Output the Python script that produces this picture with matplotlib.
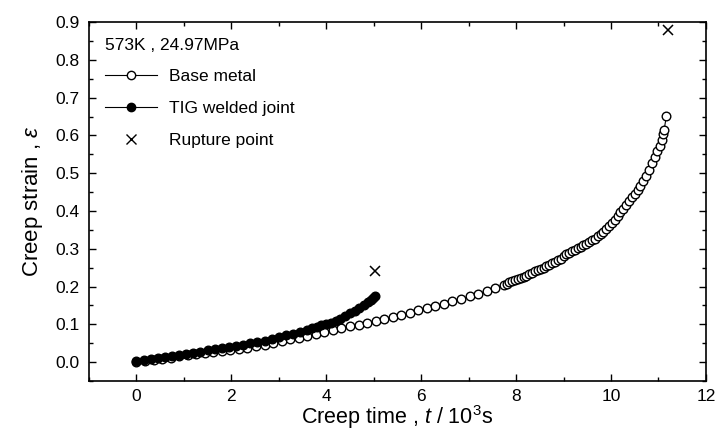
import matplotlib
matplotlib.use("Agg")
import matplotlib.pyplot as plt
from matplotlib.ticker import MultipleLocator, FormatStrFormatter
from matplotlib.lines import Line2D

plt.rcParams['font.family'] = ['Liberation Sans', 'DejaVu Sans']
plt.rcParams['mathtext.fontset'] = 'custom'
plt.rcParams['mathtext.rm'] = 'Liberation Sans'
plt.rcParams['mathtext.it'] = 'Liberation Sans:italic'

# Base metal (time in 10^3 s, strain)
base_t = [0.00, 0.18, 0.36, 0.54, 0.72, 0.90, 1.08, 1.26, 1.44, 1.62, 1.80, 1.98,
          2.16, 2.34, 2.52, 2.70, 2.88, 3.06, 3.24, 3.42, 3.60, 3.78, 3.96, 4.14,
          4.32, 4.50, 4.68, 4.86, 5.04, 5.22, 5.40, 5.58, 5.76, 5.94, 6.12, 6.30,
          6.48, 6.66, 6.84, 7.02, 7.20, 7.38, 7.56, 7.74,
          7.80, 7.86, 7.92, 7.98, 8.04, 8.10, 8.16, 8.22, 8.28, 8.34, 8.40, 8.46,
          8.52, 8.58, 8.64, 8.70, 8.76, 8.82, 8.88, 8.94, 9.00, 9.06, 9.12, 9.18,
          9.24, 9.30, 9.36, 9.42, 9.48, 9.54, 9.60, 9.66, 9.72, 9.78, 9.84, 9.90,
          9.96, 10.02, 10.08, 10.14, 10.20, 10.26, 10.32, 10.38, 10.44, 10.50,
          10.56, 10.62, 10.68, 10.74, 10.80, 10.86, 10.92, 10.98, 11.03, 11.07,
          11.10, 11.12, 11.17]
base_e = [0.000, 0.003, 0.006, 0.009, 0.012, 0.015, 0.018, 0.021, 0.024, 0.027, 0.029, 0.032,
          0.035, 0.038, 0.042, 0.046, 0.051, 0.055, 0.060, 0.065, 0.070, 0.075, 0.080, 0.085,
          0.090, 0.095, 0.099, 0.104, 0.108, 0.113, 0.119, 0.125, 0.131, 0.137, 0.142, 0.148,
          0.155, 0.161, 0.167, 0.174, 0.181, 0.188, 0.196, 0.205,
          0.208, 0.211, 0.214, 0.217, 0.220, 0.223, 0.226, 0.229, 0.233, 0.236, 0.240, 0.243,
          0.247, 0.250, 0.254, 0.258, 0.262, 0.266, 0.270, 0.274, 0.280, 0.285, 0.289, 0.293,
          0.297, 0.301, 0.305, 0.309, 0.313, 0.317, 0.322, 0.327, 0.333, 0.339, 0.345, 0.352,
          0.360, 0.368, 0.377, 0.386, 0.396, 0.406, 0.417, 0.427, 0.436, 0.445,
          0.455, 0.466, 0.479, 0.493, 0.509, 0.526, 0.543, 0.558, 0.573, 0.588,
          0.603, 0.615, 0.652]

# TIG welded joint
tig_t = [0.00, 0.15, 0.30, 0.45, 0.60, 0.75, 0.90, 1.05, 1.20, 1.35, 1.50, 1.65,
         1.80, 1.95, 2.10, 2.25, 2.40, 2.55, 2.70, 2.85, 3.00, 3.15, 3.30, 3.45,
         3.60, 3.70, 3.80, 3.90, 4.00, 4.10, 4.20, 4.30, 4.40, 4.50, 4.60, 4.70,
         4.80, 4.88, 4.94, 4.98, 5.02]
tig_e = [0.003, 0.005, 0.008, 0.011, 0.013, 0.016, 0.019, 0.022, 0.025, 0.028, 0.031, 0.034,
         0.037, 0.040, 0.043, 0.046, 0.050, 0.053, 0.057, 0.061, 0.066, 0.071, 0.075, 0.080,
         0.086, 0.089, 0.093, 0.097, 0.100, 0.104, 0.109, 0.115, 0.122, 0.129, 0.136, 0.144,
         0.152, 0.159, 0.165, 0.170, 0.175]

# Rupture points
rup_t = [5.03, 11.2]
rup_e = [0.242, 0.88]

fig = plt.figure(figsize=(7.21, 4.32), dpi=100)
ax = fig.add_axes([0.1234, 0.118, 0.8556, 0.831])

ax.plot(base_t, base_e, '-o', color='black', lw=0.8, ms=6.2, mfc='white', mec='black', mew=1.0, zorder=2)
ax.plot(tig_t, tig_e, '-o', color='black', lw=0.8, ms=6.2, mfc='black', mec='black', zorder=3)
ax.plot(rup_t, rup_e, 'x', color='black', ms=6.5, mew=1.1, linestyle='none')

ax.set_xlim(-1, 12)
ax.set_ylim(-0.05, 0.9)
ax.xaxis.set_major_locator(MultipleLocator(2))
ax.xaxis.set_minor_locator(MultipleLocator(1))
ax.yaxis.set_major_locator(MultipleLocator(0.1))
ax.yaxis.set_minor_locator(MultipleLocator(0.05))
ax.yaxis.set_major_formatter(FormatStrFormatter('%.1f'))
ax.tick_params(which='both', direction='in', top=True, right=True, labelsize=12.5)
ax.tick_params(which='major', length=5, width=1.0)
ax.tick_params(axis='x', which='major', pad=6)
ax.tick_params(axis='y', which='major', pad=7)
ax.tick_params(which='minor', length=3, width=1.0)
for s in ax.spines.values():
    s.set_linewidth(1.2)

ax.set_xlabel(r'Creep time , $\it{t}$ / 10$^{3}$s', fontsize=15.5, labelpad=-1)
ax.set_ylabel(r'Creep strain , $\it{\varepsilon}$', fontsize=16, labelpad=7)

handles = [
    Line2D([], [], color='black', lw=0.8, marker='o', ms=6, mfc='white', mec='black'),
    Line2D([], [], color='black', lw=0.8, marker='o', ms=6, mfc='black', mec='black'),
    Line2D([], [], color='black', lw=0, marker='x', ms=6.5, mew=1.0),
]
leg = ax.legend(handles, ['Base metal', 'TIG welded joint', 'Rupture point'],
                title='573K , 24.97MPa', loc='upper left', frameon=False,
                fontsize=12.5, title_fontsize=12.5, handlelength=3.0, handletextpad=0.7,
                labelspacing=0.95, borderaxespad=0.5, alignment='left')

fig.savefig('out.png', dpi=100)
